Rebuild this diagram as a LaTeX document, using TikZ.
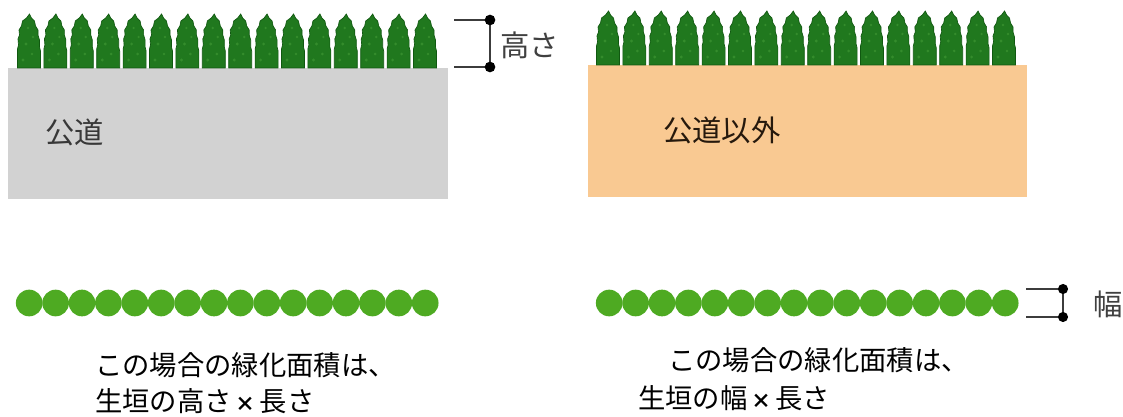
\documentclass[tikz,border=0pt]{standalone}
\usepackage{fontspec}
\newfontfamily\jpfont{Noto Sans CJK JP}
\definecolor{roadgray}{RGB}{210,210,210}
\definecolor{lotorange}{RGB}{249,201,146}
\definecolor{treegreen}{RGB}{32,120,30}
\definecolor{treelight}{RGB}{52,140,44}
\definecolor{treeedge}{RGB}{16,88,16}
\definecolor{hedgegreen}{RGB}{78,170,34}
\definecolor{dimgray}{RGB}{60,60,60}
\newcommand\smalltimes{\hspace{3pt}{\fontsize{15pt}{15pt}\selectfont\bfseries ×}\hspace{3pt}}
\tikzset{
  conifer/.pic={
    \fill[treegreen,draw=treeedge,line width=0.5pt]
      (0.5,0) -- (0.5,-19) -- (1.5,-23) -- (1,-29) -- (2.5,-33) -- (2,-38)
      -- (4.5,-42) -- (5.5,-47) -- (9.5,-50) -- (12.5,-54) -- (14.5,-50)
      -- (17.5,-47) -- (18.5,-42) -- (21,-38) -- (21,-33) -- (22.5,-28)
      -- (22.5,-21) -- (23.5,-17) -- (23.5,0) -- cycle;
    \fill[treelight] (6,-8) circle (1.2pt) (15,-14) circle (1.1pt)
      (9,-24) circle (1.2pt) (16,-31) circle (1pt) (11,-40) circle (1pt);
  },
  biglbl/.style={font=\jpfont\fontsize{22pt}{26pt}\selectfont,inner sep=0pt,anchor=west},
  lbl/.style={font=\jpfont\fontsize{20.5pt}{24pt}\selectfont,inner sep=0pt,anchor=west},
  dimline/.style={draw=dimgray,line width=1.4pt},
}
\begin{document}
\begin{tikzpicture}[x=0.75pt,y=-0.75pt]
\useasboundingbox (0,0) rectangle (1123,417);

\fill[roadgray] (8,68) rectangle (448,199);
\fill[lotorange] (588,65) rectangle (1027,197);

\foreach \i in {0,...,15} {
  \pic at ({17+26.4*\i},68) {conifer};
  \pic at ({596+26.4*\i},65) {conifer};
  \fill[hedgegreen] ({29.2+26.4*\i},303) circle (10pt);
  \fill[hedgegreen] ({609.2+26.4*\i},303) circle (10pt);
}

\node[biglbl,text=black!78] (road) at (45,132) {公道};
\node[biglbl,text=black!80!brown] (other) at (663,130) {公道以外};

\coordinate (hta) at (454,20);
\coordinate (htb) at (490,20);
\coordinate (hba) at (454,67);
\coordinate (hbb) at (490,67);
\draw[dimline] (hta) -- (htb);
\draw[dimline] (hba) -- (hbb);
\draw[dimline] (htb) -- (hbb);
\fill[black] (htb) circle (4pt) (hbb) circle (4pt);
\node[biglbl,text=black!75] (height) at (500,45) {高さ};

\coordinate (wta) at (1026,289);
\coordinate (wtb) at (1063,289);
\coordinate (wba) at (1026,317);
\coordinate (wbb) at (1063,317);
\draw[dimline] (wta) -- (wtb);
\draw[dimline] (wba) -- (wbb);
\draw[dimline] (wtb) -- (wbb);
\fill[black] (wtb) circle (3.8pt) (wbb) circle (3.8pt);
\node[biglbl,text=black!75] (width) at (1093,304) {幅};

\node[lbl] (lefta) at (95,365) {この場合の緑化面積は、};
\node[lbl] (leftb) at (95,401) {生垣の高さ\smalltimes 長さ};
\node[lbl] (righta) at (668,360) {この場合の緑化面積は、};
\node[lbl] (rightb) at (638,398) {生垣の幅\smalltimes 長さ};
\end{tikzpicture}
\end{document}
